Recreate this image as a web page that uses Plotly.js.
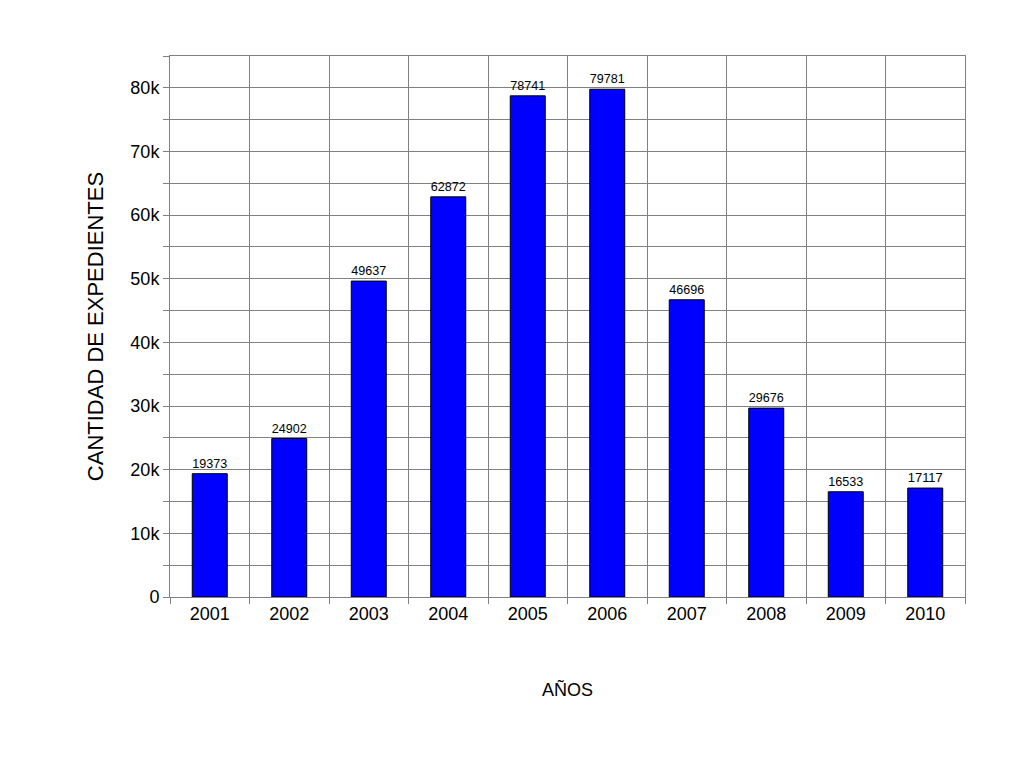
<!DOCTYPE html>
<html>
<head>
<meta charset="utf-8">
<script src="https://cdn.plot.ly/plotly-3.0.1.min.js"></script>
<style>body{margin:0;background:#fff}#chart{width:1024px;height:768px}</style>
</head>
<body>
<div id="chart"></div>
<script>
const years = ['2001', '2002', '2003', '2004', '2005', '2006', '2007', '2008', '2009', '2010'];
const expedientes = [19373, 24902, 49637, 62872, 78741, 79781, 46696, 29676, 16533, 17117];

const font = { family: 'Liberation Sans, Arial, sans-serif', size: 18, color: '#000' };

const trace = {
    x: years,
    y: expedientes,
    type: 'bar',
    width: 0.44,
    marker: { color: '#0000ff', line: { color: '#000', width: 1 } },
    text: expedientes.map(String),
    textposition: 'outside',
    cliponaxis: false,
    textfont: font
};

const layout = {
    width: 1024,
    height: 768,
    margin: { l: 170, r: 59, t: 56, b: 171 },
    plot_bgcolor: '#fff',
    paper_bgcolor: '#fff',
    font: font,
    showlegend: false,
    xaxis: {
        type: 'category',
        tickson: 'boundaries',
        showgrid: true,
        gridcolor: '#808080',
        gridwidth: 1,
        ticks: 'outside',
        ticklen: 6,
        tickcolor: '#808080',
        showline: true,
        linecolor: '#808080',
        mirror: true,
        title: { text: 'AÑOS', font: font, standoff: 60 }
    },
    yaxis: {
        range: [0, 85000],
        dtick: 10000,
        showgrid: true,
        gridcolor: '#808080',
        zeroline: false,
        ticks: 'outside',
        ticklen: 6,
        tickcolor: '#808080',
        showline: true,
        linecolor: '#808080',
        mirror: true,
        minor: { dtick: 5000, showgrid: true, gridcolor: '#808080', ticks: 'outside', ticklen: 6, tickcolor: '#808080' },
        title: { text: 'CANTIDAD DE EXPEDIENTES', font: { ...font, size: 22 }, standoff: 20 }
    }
};

Plotly.newPlot('chart', [trace], layout, { displayModeBar: false, staticPlot: true });
</script>
</body>
</html>
